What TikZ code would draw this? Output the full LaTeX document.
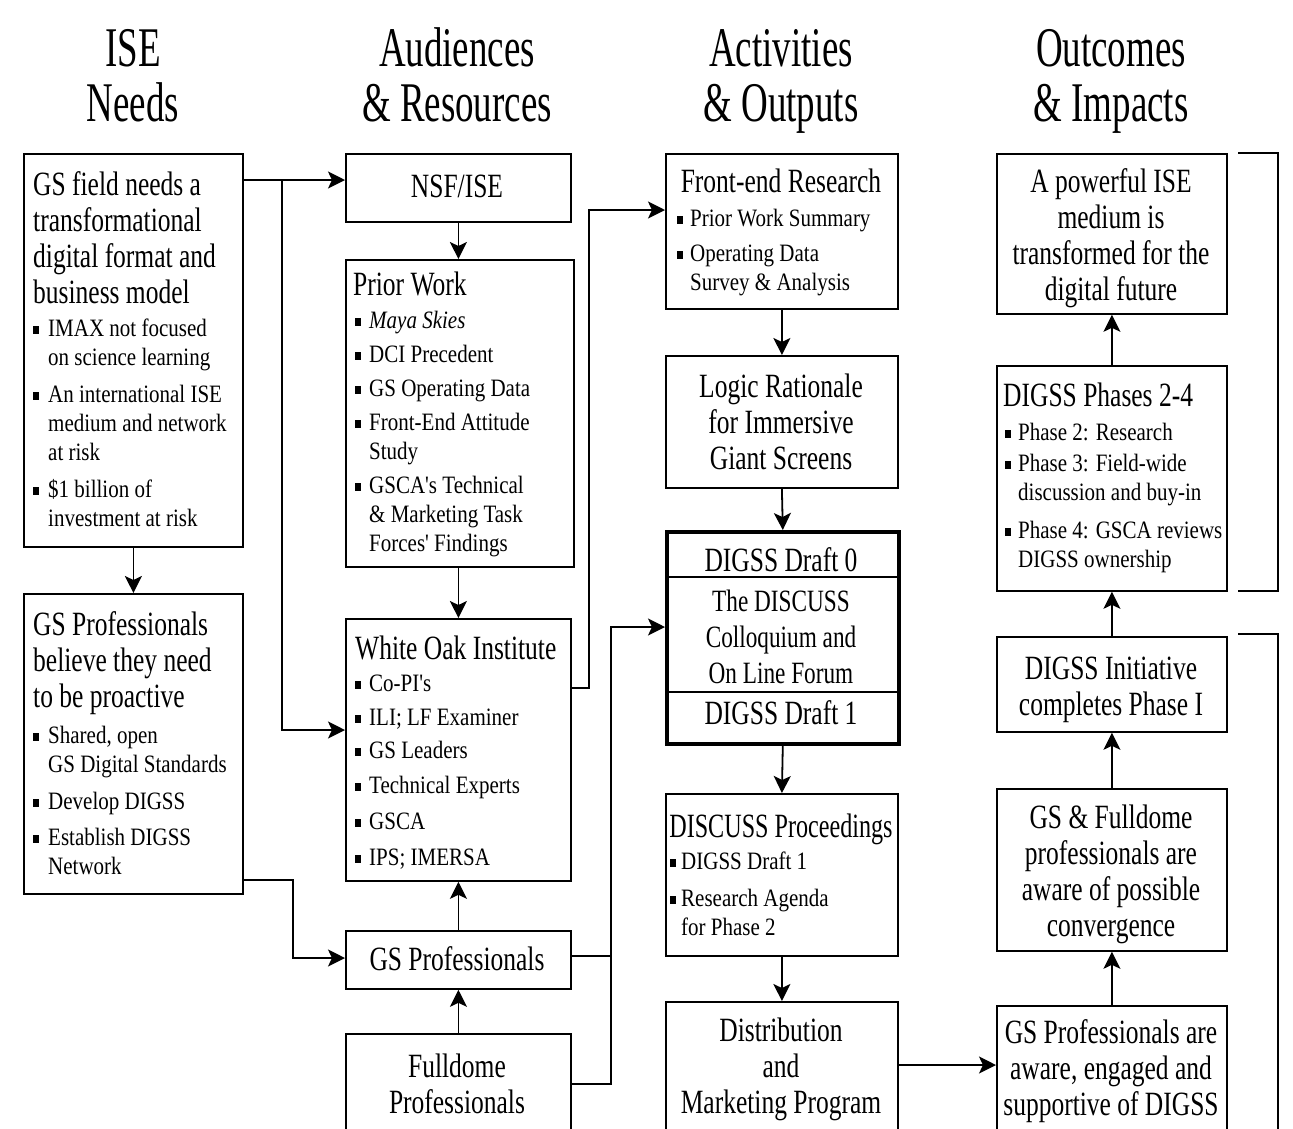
\documentclass[tikz,border=0pt]{standalone}
\usepackage{fontspec}
\setmainfont{Liberation Serif}
\newfontfamily\hfont{Liberation Serif}[FakeStretch=0.66]
\newfontfamily\tfont{Liberation Serif}[FakeStretch=0.75]
\newfontfamily\nfont{Liberation Serif}[FakeStretch=0.71]
\newfontfamily\bfont{Liberation Serif}[FakeStretch=0.84]
\usetikzlibrary{arrows.meta}
\newcommand{\Hfont}{\hfont\fontsize{56}{55}\selectfont}
\newcommand{\Tfont}{\tfont\fontsize{34}{36}\selectfont}
\newcommand{\Nfont}{\nfont\fontsize{34}{36}\selectfont}
\newcommand{\Mfont}{\tfont\fontsize{31}{36}\selectfont}
\newcommand{\Bfont}{\bfont\fontsize{25}{29}\selectfont}
\newlength\bw
\setlength\bw{14pt}
\newcommand{\bsq}{\makebox[\bw][l]{\rule[2.5pt]{6pt}{8pt}}}
\newcommand{\ind}{\hspace*{\bw}}
\newcommand{\gap}[1]{\noalign{\vskip#1}}
\newcommand{\Lblock}[1]{\vtop{\halign{##\hfil\cr#1\crcr}}}
\newcommand{\Cblock}[1]{\vtop{\halign{\hfil##\hfil\cr#1\crcr}}}
\tikzset{
  box/.style={draw, line width=1.8pt, rectangle, inner sep=0pt, anchor=north west},
  thickbox/.style={box, line width=3.6pt},
  conn/.style={line width=1.8pt},
  divline/.style={line width=2.6pt},
  arr/.style={conn, -{Stealth[length=17pt,width=17pt,inset=4pt]}},
  lt/.style={inner sep=0pt, anchor=base west},
  ct/.style={inner sep=0pt, anchor=base},
  head/.style={ct, font=\Hfont},
  ttl/.style={font=\Tfont},
  bul/.style={font=\Bfont},
}
\begin{document}
\begin{tikzpicture}[x=1pt,y=-1pt]
\useasboundingbox[fill=white] (0,0) rectangle (1293,1128);

% headings
\node[head] (h1) at (133,66) {\Cblock{ISE\cr Needs}};
\node[head] (h2) at (457,66) {\Cblock{Audiences\cr \& Resources}};
\node[head] (h3) at (781,66) {\Cblock{Activities\cr \& Outputs}};
\node[head] (h4) at (1111,66) {\Cblock{Outcomes\cr \& Impacts}};

% boxes
\node[box, minimum width=219pt, minimum height=393pt] (A) at (23,153) {};
\node[box, minimum width=219pt, minimum height=300pt] (B) at (23,593) {};
\node[box, minimum width=225pt, minimum height=68pt] (NSF) at (345,153) {};
\node[box, minimum width=228pt, minimum height=307pt] (PW) at (345,259) {};
\node[box, minimum width=225pt, minimum height=262pt] (WO) at (345,618) {};
\node[box, minimum width=225pt, minimum height=58pt] (GSP) at (345,930) {};
\node[box, minimum width=225pt, minimum height=120pt] (FD) at (345,1033) {};
\node[box, minimum width=232pt, minimum height=155pt] (FER) at (665,153) {};
\node[box, minimum width=232pt, minimum height=132pt] (LR) at (665,355) {};
\node[thickbox, minimum width=232pt, minimum height=212pt] (DG) at (665,530) {};
\node[box, minimum width=232pt, minimum height=162pt] (DP) at (665,793) {};
\node[box, minimum width=232pt, minimum height=150pt] (DM) at (665,1001) {};
\node[box, minimum width=230pt, minimum height=160pt] (PI) at (996,153) {};
\node[box, minimum width=230pt, minimum height=225pt] (PH) at (996,365) {};
\node[box, minimum width=230pt, minimum height=95pt] (IN) at (996,636) {};
\node[box, minimum width=230pt, minimum height=162pt] (GF) at (996,788) {};
\node[box, minimum width=230pt, minimum height=150pt] (GA) at (996,1005) {};

% DIGSS dividers
\draw[divline] (DG.west |- 0,577) -- (DG.east |- 0,577);
\draw[divline] (DG.west |- 0,692) -- (DG.east |- 0,692);

% column 1 texts
\node[lt, ttl] (At) at (33,195) {\Lblock{GS field needs a\cr transformational\cr digital format and\cr business model}};
\node[lt, bul] (Ab) at (33,336) {\setlength\bw{15pt}\Lblock{\bsq IMAX not focused\cr \ind on science learning\cr\gap{8pt}
 \bsq An international ISE\cr \ind medium and network\cr \ind at risk\cr\gap{8pt}
 \bsq \$1 billion of\cr \ind investment at risk}};
\node[lt, ttl] (Bt) at (33,635) {\Lblock{GS Professionals\cr believe they need\cr to be proactive}};
\node[lt, bul] (Bb) at (33,743) {\setlength\bw{15pt}\Lblock{\bsq Shared, open\cr \ind GS Digital Standards\cr\gap{8pt}
 \bsq Develop DIGSS\cr\gap{7pt}
 \bsq Establish DIGSS\cr \ind Network}};

% column 2 texts
\node[ct, ttl] (NSFt) at (457,197) {NSF/ISE};
\node[lt, ttl] (PWt) at (353,295) {Prior Work};
\node[lt, bul] (PWb) at (355,328) {\Lblock{\bsq{\itshape Maya Skies}\cr\gap{5pt}
 \bsq DCI Precedent\cr\gap{5pt}
 \bsq GS Operating Data\cr\gap{5pt}
 \bsq Front-End Attitude\cr \ind Study\cr\gap{5pt}
 \bsq GSCA's Technical\cr \ind \& Marketing Task\cr \ind Forces' Findings}};
\node[lt, ttl] (WOt) at (355,659) {White Oak Institute};
\node[lt, bul] (WOb) at (355,691) {\Lblock{\bsq Co-PI's\cr\gap{5pt}
 \bsq ILI; LF Examiner\cr\gap{4pt}
 \bsq GS Leaders\cr\gap{6pt}
 \bsq Technical Experts\cr\gap{7pt}
 \bsq GSCA\cr\gap{7pt}
 \bsq IPS; IMERSA}};
\node[ct, ttl] (GSPt) at (457,970) {GS Professionals};
\node[ct, ttl] (FDt) at (457,1077) {\Cblock{Fulldome\cr Professionals}};

% column 3 texts
\node[ct, ttl] (FERt) at (781,192) {Front-end Research};
\node[lt, bul] (FERb) at (677,226) {\setlength\bw{13pt}\Lblock{\bsq Prior Work Summary\cr\gap{6pt}
 \bsq Operating Data\cr \ind Survey \& Analysis}};
\node[ct, ttl] (LRt) at (781,397) {\Cblock{Logic Rationale\cr for Immersive\cr Giant Screens}};
\node[ct, ttl] (DG0) at (781,571) {DIGSS Draft 0};
\node[ct, font=\Mfont] (DGm) at (781,611) {\Cblock{The DISCUSS\cr Colloquium and\cr On Line Forum}};
\node[ct, ttl] (DG1) at (781,724) {DIGSS Draft 1};
\node[ct, font=\Nfont] (DPt) at (781,837) {DISCUSS Proceedings};
\node[lt, bul] (DPb) at (670,869) {\setlength\bw{11pt}\Lblock{\bsq DIGSS Draft 1\cr\gap{8pt}
 \bsq Research Agenda\cr \ind for Phase 2}};
\node[ct, ttl] (DMt) at (781,1041) {\Cblock{Distribution\cr and\cr Marketing Program}};

% column 4 texts
\node[ct, ttl] (PIt) at (1111,192) {\Cblock{A powerful ISE\cr medium is\cr transformed for the\cr digital future}};
\node[lt, ttl] (PHt) at (1003,406) {DIGSS Phases 2-4};
\node[lt, bul] (PHb) at (1005,440) {\setlength\bw{13pt}\Lblock{\bsq Phase 2: Research\cr\gap{2pt}
 \bsq Phase 3: Field-wide\cr \ind discussion and buy-in\cr\gap{9pt}
 \bsq Phase 4: GSCA reviews\cr \ind DIGSS ownership}};
\node[ct, ttl] (INt) at (1111,679) {\Cblock{DIGSS Initiative\cr completes Phase I}};
\node[ct, ttl] (GFt) at (1111,828) {\Cblock{GS \& Fulldome\cr professionals are\cr aware of possible\cr convergence}};
\node[ct, ttl] (GAt) at (1111,1043) {\Cblock{GS Professionals are\cr aware, engaged and\cr supportive of DIGSS}};

% junction coordinates
\coordinate (j1) at (282,180);
\coordinate (j2) at (282,730);
\coordinate (j3) at (293,880);
\coordinate (j4) at (293,958);
\coordinate (j5) at (589,688);
\coordinate (j6) at (589,210);
\coordinate (j7) at (611,956);
\coordinate (j8) at (611,1084);
\coordinate (j9) at (611,627);
\coordinate (j10) at (0,1065);

% connectors
\draw[arr] (A.east |- j1) -- (NSF.west |- j1);
\draw[arr] (j1) -- (j2) -- (WO.west |- j2);
\draw[arr] (A.south) -- (B.north);
\draw[arr] (B.east |- j3) -- (j3) -- (j4) -- (GSP.west |- j4);
\draw[arr] (NSF.south) -- (NSF.south |- PW.north);
\draw[arr] (NSF.south |- PW.south) -- (WO.north);
\draw[arr] (GSP.north) -- (WO.south);
\draw[arr] (FD.north) -- (GSP.south);
\draw[arr] (WO.east |- j5) -- (j5) -- (j6) -- (FER.west |- j6);
\draw[conn] (GSP.east |- j7) -- (j7);
\draw[arr] (FD.east |- j8) -- (j8) -- (j9) -- (DG.west |- j9);
\draw[arr] (FER.south) -- (LR.north);
\draw[arr] (LR.south) -- (DG.north);
\draw[arr] (DG.south) -- (DP.north);
\draw[arr] (DP.south) -- (DM.north);
\draw[arr] (DM.east |- j10) -- (GA.west |- j10);
\draw[arr] (GA.north) -- (GF.south);
\draw[arr] (GF.north) -- (IN.south);
\draw[arr] (IN.north) -- (PH.south);
\draw[arr] (PH.north) -- (PI.south);

% brackets
\draw[conn] (1238,153) -- (1278,153) -- (1278,591) -- (1238,591);
\draw[conn] (1238,634) -- (1278,634) -- (1278,1150);
\end{tikzpicture}
\end{document}
